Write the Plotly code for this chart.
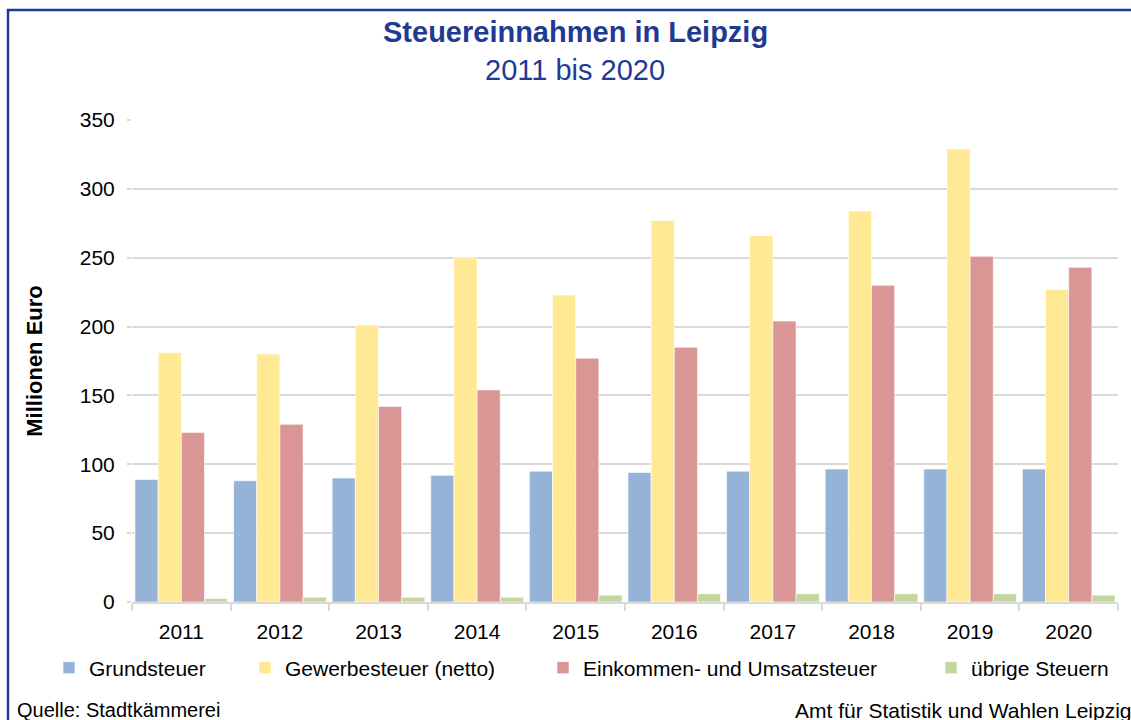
import plotly.graph_objects as go

# Steuereinnahmen der Stadt Leipzig, Millionen Euro
jahre = ["2011", "2012", "2013", "2014", "2015", "2016", "2017", "2018", "2019", "2020"]
grundsteuer = [89, 88, 90, 92, 95, 94, 95, 96.5, 96.5, 96.5]
gewerbesteuer = [181, 180, 201, 250, 223, 277, 266, 284, 329, 227]
einkommen_umsatz = [123, 129, 142, 154, 177, 185, 204, 230, 251, 243]
uebrige = [2.5, 3.5, 3.5, 3.5, 5, 6, 6, 6, 6, 5]

serien = [
    ("Grundsteuer", grundsteuer, "#95B3D7"),
    ("Gewerbesteuer (netto)", gewerbesteuer, "#FFE994"),
    ("Einkommen- und Umsatzsteuer", einkommen_umsatz, "#D99694"),
    ("übrige Steuern", uebrige, "#C3D69B"),
]

FONT = "Liberation Sans, Arial, sans-serif"
BLAU = "#1F3A93"
W, H = 1131, 720
L, R, T, B = 132, 13, 120, 118
pw, ph = W - L - R, H - T - B


def px_x(x):
    return (x - L) / pw


def px_y(y):
    return (H - B - y) / ph


fig = go.Figure()
legend_namen = ["legend", "legend2", "legend3", "legend4"]
for (name, werte, farbe), leg in zip(serien, legend_namen):
    fig.add_trace(go.Bar(
        x=jahre, y=werte, name=name,
        marker=dict(color=farbe, line=dict(color="rgba(255,255,255,0.6)", width=1)),
        legend=leg,
    ))

# one legend per series so each entry sits at its own position
legend_x = [49, 245, 543, 931]
leg_layout = {}
for leg, lx in zip(legend_namen, legend_x):
    leg_layout[leg] = dict(
        x=px_x(lx), y=px_y(668), xanchor="left", yanchor="middle",
        orientation="h", bgcolor="rgba(0,0,0,0)",
        font=dict(family=FONT, size=21, color="#000000"),
    )

fig.update_layout(
    width=W, height=H,
    margin=dict(l=L, r=R, t=T, b=B),
    paper_bgcolor="white", plot_bgcolor="white",
    barmode="group", bargap=0.06, bargroupgap=0,
    showlegend=True,
    **leg_layout,
    xaxis=dict(
        type="category", tickson="boundaries", ticks="outside", ticklen=7,
        tickcolor="#D9D9D9", tickwidth=2,
        showline=True, linecolor="#D9D9D9", linewidth=2,
        showgrid=False,
        tickfont=dict(family=FONT, size=21, color="#000000"),
        ticklabelstandoff=10,
    ),
    yaxis=dict(
        range=[0, 350], dtick=50, tick0=0,
        showgrid=True, gridcolor="#D9D9D9", gridwidth=2,
        zeroline=False, showline=False,
        ticks="outside", ticklen=4, tickcolor="#D9D9D9", tickwidth=2,
        tickfont=dict(family=FONT, size=21, color="#000000"),
        ticklabelstandoff=8,
        title=dict(text="<b>Millionen Euro</b>", standoff=31,
                   font=dict(family=FONT, size=22, color="#000000")),
    ),
    shapes=[dict(
        type="rect", xref="paper", yref="paper",
        x0=px_x(8), x1=px_x(1160), y0=px_y(10), y1=px_y(760),
        line=dict(color=BLAU, width=2.5), fillcolor="rgba(0,0,0,0)", layer="below",
    )],
    annotations=[
        dict(text="<b>Steuereinnahmen in Leipzig</b>", xref="paper", yref="paper",
             x=px_x(575), y=px_y(32), xanchor="center", yanchor="middle",
             showarrow=False, font=dict(family=FONT, size=29, color=BLAU)),
        dict(text="2011 bis 2020", xref="paper", yref="paper",
             x=px_x(575), y=px_y(70), xanchor="center", yanchor="middle",
             showarrow=False, font=dict(family=FONT, size=29, color=BLAU)),
        dict(text="Quelle: Stadtkämmerei", xref="paper", yref="paper",
             x=px_x(15), y=px_y(710), xanchor="left", yanchor="middle",
             showarrow=False, font=dict(family=FONT, size=20, color="#000000")),
        dict(text="Amt für Statistik und Wahlen Leipzig", xref="paper", yref="paper",
             x=px_x(793), y=px_y(710), xanchor="left", yanchor="middle",
             showarrow=False, font=dict(family=FONT, size=21, color="#000000")),
    ],
)

fig.write_html("out.html")
